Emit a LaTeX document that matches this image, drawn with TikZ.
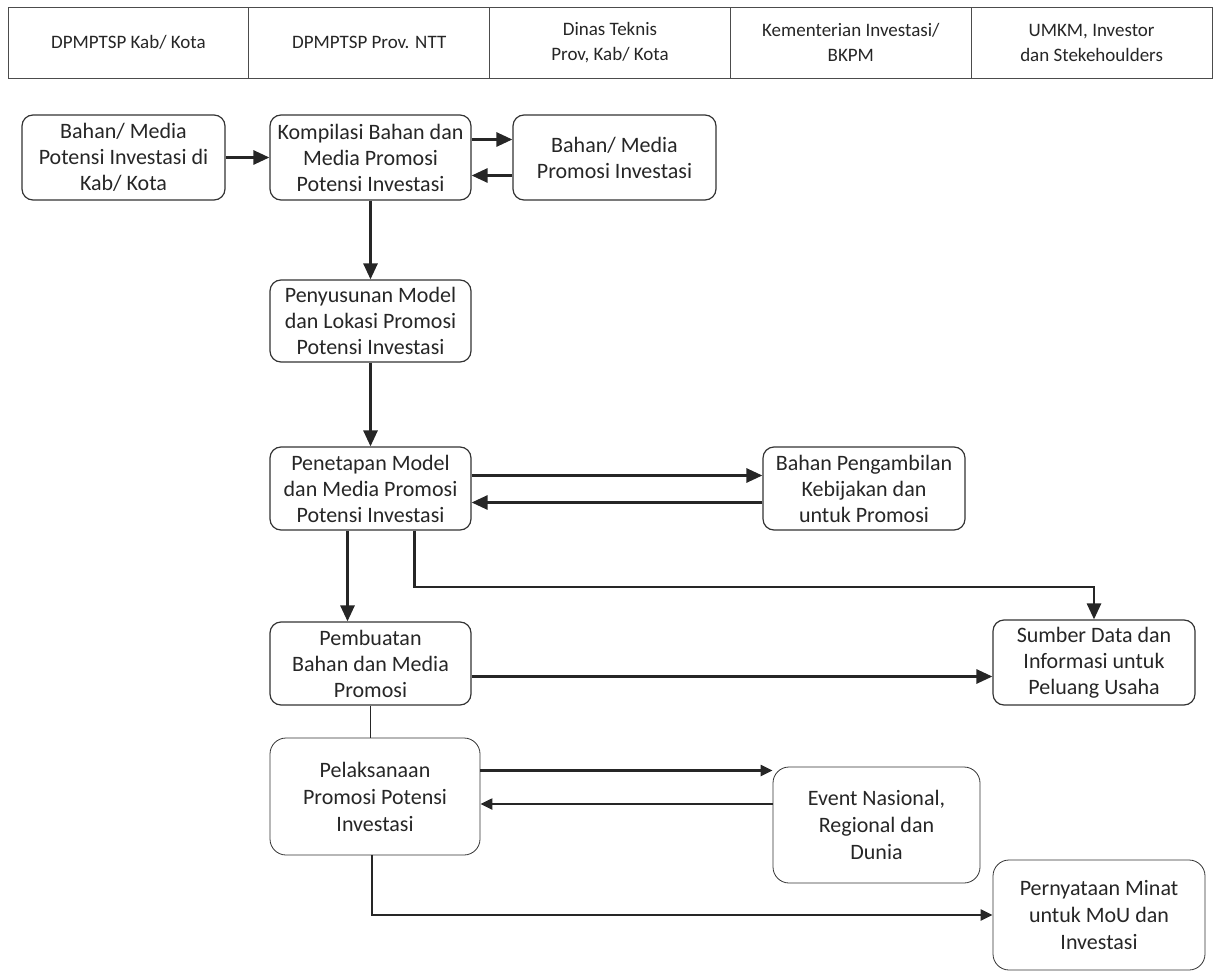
\documentclass[tikz,border=0pt]{standalone}
\usepackage{fontspec}
\setmainfont{Carlito}
\usetikzlibrary{arrows.meta}
\tikzset{
  kotak/.style={draw=black!80,line width=1.2pt,rounded corners=11pt,align=center,
    text=black!85,inner sep=1pt,font=\fontsize{22}{26}\selectfont},
  kepala/.style={draw=black!70,line width=0.9pt,minimum width=240.8pt,minimum height=71pt,
    align=center,text=black!85,inner sep=0pt,font=\fontsize{19}{25}\selectfont},
  panah/.style={line width=2.8pt,draw=black!85,-{Triangle[length=16pt,width=14pt]}},
  panahtipis/.style={line width=2.2pt,draw=black!85,-{Triangle[length=12pt,width=11pt]}},
  garis/.style={line width=1.3pt,draw=black!85}
}
\begin{document}
\begin{tikzpicture}[x=1pt,y=-1pt]
\useasboundingbox (0,0) rectangle (1217,973);
% header
\node[kepala] (h1) at (128.4,42.5) {DPMPTSP Kab/ Kota};
\node[kepala] (h2) at (369.2,42.5) {DPMPTSP Prov. NTT};
\node[kepala] (h3) at (610,42.5) {Dinas Teknis\\Prov, Kab/ Kota};
\node[kepala] (h4) at (850.8,42.5) {Kementerian Investasi/\\BKPM};
\node[kepala] (h5) at (1091.6,42.5) {UMKM, Investor\\dan Stekehoulders};
% boxes
\node[kotak,minimum width=203pt,minimum height=85pt] (bahan) at (123.5,157.5) {Bahan/ Media\\Potensi Investasi di\\Kab/ Kota};
\node[kotak,minimum width=201pt,minimum height=85pt] (kompilasi) at (370.5,157.5) {Kompilasi Bahan dan\\Media Promosi\\Potensi Investasi};
\node[kotak,minimum width=203pt,minimum height=85pt] (media) at (614.5,157.5) {Bahan/ Media\\Promosi Investasi};
\node[kotak,minimum width=201pt,minimum height=82pt] (susun) at (370.5,321) {Penyusunan Model\\dan Lokasi Promosi\\Potensi Investasi};
\node[kotak,minimum width=201pt,minimum height=83pt] (tetap) at (370.5,488.5) {Penetapan Model\\dan Media Promosi\\Potensi Investasi};
\node[kotak,minimum width=202pt,minimum height=83pt] (kebijakan) at (864,488.5) {Bahan Pengambilan\\Kebijakan dan\\untuk Promosi};
\node[kotak,minimum width=201pt,minimum height=83pt] (buat) at (370.5,663.5) {Pembuatan\\Bahan dan Media\\Promosi};
\node[kotak,minimum width=202pt,minimum height=85pt] (sumber) at (1094,662.5) {Sumber Data dan\\Informasi untuk\\Peluang Usaha};
\node[kotak,line width=0.8pt,rounded corners=16pt,minimum width=210pt,minimum height=117pt,font=\fontsize{22}{27}\selectfont] (laksana) at (375,796.5) {Pelaksanaan\\Promosi Potensi\\Investasi};
\node[kotak,line width=0.8pt,rounded corners=16pt,minimum width=207pt,minimum height=116pt,font=\fontsize{22}{27}\selectfont] (event) at (876.5,825) {Event Nasional,\\Regional dan\\Dunia};
\node[kotak,line width=0.8pt,rounded corners=16pt,minimum width=212pt,minimum height=110pt,font=\fontsize{22}{27}\selectfont] (minat) at (1099,915) {Pernyataan Minat\\untuk MoU dan\\Investasi};
% connectors
\draw[panah] (bahan) -- (kompilasi);
\draw[panah] ([yshift=18pt]kompilasi.east) -- ([yshift=18pt]media.west);
\draw[panah] ([yshift=-18pt]media.west) -- ([yshift=-18pt]kompilasi.east);
\draw[panah] (kompilasi) -- (susun);
\draw[panah] (susun) -- (tetap);
\draw[panah] ([yshift=13pt]tetap.east) -- ([yshift=13pt]kebijakan.west);
\draw[panah] ([yshift=-14pt]kebijakan.west) -- ([yshift=-14pt]tetap.east);
\draw[panah] ([xshift=-23pt]tetap.south) -- ([xshift=-23pt]buat.north);
\coordinate (belok) at (1094,587);
\draw[panah] ([xshift=44pt]tetap.south) |- (belok) -- (sumber.north);
\draw[panah] ([yshift=-13pt]buat.east) -- ([yshift=-13pt]buat.east -| sumber.west);
\draw[garis] (buat.south) -- (buat.south |- laksana.north);
\draw[panahtipis] ([yshift=26pt]laksana.east) -- ([yshift=26pt]laksana.east -| event.west);
\draw[panahtipis] ([yshift=21pt]event.west) -- ([yshift=21pt]event.west -| laksana.east);
\draw[panahtipis] ([xshift=-3pt]laksana.south) |- (minat.west);
\end{tikzpicture}
\end{document}
